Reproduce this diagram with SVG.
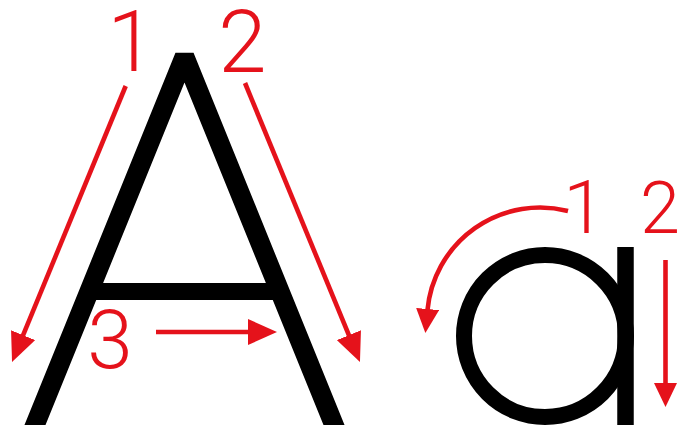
<svg xmlns="http://www.w3.org/2000/svg" width="681" height="432" viewBox="0 0 681 432">
  <style>
    .ink { fill: none; stroke: #000; stroke-linecap: butt; }
    .red { fill: none; stroke: #e5121b; stroke-width: 4.6; stroke-linecap: butt; }
    .num { fill: #e5121b; font-family: Roboto, "Liberation Sans", sans-serif; font-weight: 300; text-anchor: middle; }
    .num.end { text-anchor: end; }
  </style>
  <defs>
    <marker id="headL" markerUnits="userSpaceOnUse" markerWidth="29" markerHeight="26" viewBox="0 0 29 26" refX="1" refY="13" orient="auto">
      <path d="M0,0 L29,13 L0,26 Z" fill="#e5121b"/>
    </marker>
    <marker id="headS" markerUnits="userSpaceOnUse" markerWidth="24" markerHeight="23" viewBox="0 0 24 23" refX="1" refY="11.5" orient="auto">
      <path d="M0,0 L24,11.5 L0,23 Z" fill="#e5121b"/>
    </marker>
    <clipPath id="aclip">
      <rect x="0" y="0" width="400" height="425"/>
    </clipPath>
  </defs>
  <rect width="681" height="432" fill="#fff"/>

  <g id="letter-A">
    <polyline class="ink" points="28.9,440 184.5,56.5 340.1,440" stroke-width="19.5" stroke-linejoin="bevel" clip-path="url(#aclip)"/>
    <line class="ink" x1="88" y1="291.5" x2="282" y2="291.5" stroke-width="17"/>
  </g>

  <g id="letter-a">
    <circle class="ink" cx="545" cy="336" r="81" stroke-width="16"/>
    <line class="ink" x1="625.5" y1="247" x2="625.5" y2="425" stroke-width="16.5"/>
  </g>

  <g id="labels">
    <text class="num" x="131" y="71" font-size="86">1</text>
    <text class="num" x="242.5" y="72" font-size="87">2</text>
    <text class="num" x="110" y="368" font-size="82">3</text>
    <text class="num" x="584" y="233" font-size="75">1</text>
    <text class="num end" x="680" y="233" font-size="72">2</text>
  </g>

  <g id="connectors">
    <line class="red" x1="125.7" y1="86" x2="22.7" y2="336.1" marker-end="url(#headL)"/>
    <line class="red" x1="245" y1="83" x2="349.3" y2="336.1" marker-end="url(#headL)"/>
    <line class="red" x1="156" y1="332" x2="249" y2="332" marker-end="url(#headL)"/>
    <path class="red" d="M568,211 A113,113 0 0 0 427.5,310" marker-end="url(#headS)"/>
    <line class="red" x1="665.5" y1="260" x2="665.5" y2="384" marker-end="url(#headS)"/>
  </g>
</svg>
